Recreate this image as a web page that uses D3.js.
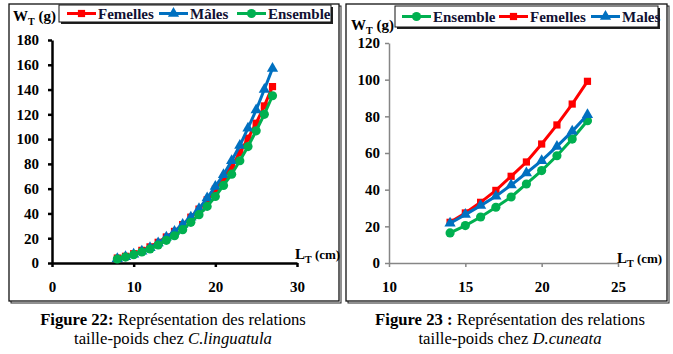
<!DOCTYPE html>
<html>
<head>
<meta charset="utf-8">
<script src="https://cdn.jsdelivr.net/npm/d3@7"></script>
<style>
  body { margin: 0; background: #fff; }
  text { font-family: "Liberation Serif", "Times New Roman", serif; }
</style>
</head>
<body>
<div id="plot"></div>
<script>
// Figure 22 - C.linguatula
var lenA = [8, 9, 10, 11, 12, 13, 14, 15, 16, 17, 18, 19, 20, 21, 22, 23, 24, 25, 26, 27]
var femellesA = [4, 5.4, 7.5, 10.2, 13, 16.7, 21, 25.5, 31, 37, 43.5, 51, 59.6, 68.5, 78, 89, 100.7, 112.8, 126.8, 142.4]
var malesA = [3.5, 5.1, 7, 9.4, 12.4, 16.1, 20.7, 25.5, 31, 37, 43.8, 52.4, 61.8, 71.2, 82.5, 94.8, 108.8, 123.5, 140, 157]
var ensembleA = [3.2, 4.8, 6.7, 8.9, 11.3, 14.5, 18.3, 22, 26.9, 32.8, 39, 45.7, 53.7, 62.6, 71.7, 82.5, 94, 106.7, 120, 135]
var xTicksA = [0, 10, 20, 30]
var yTicksA = [0, 20, 40, 60, 80, 100, 120, 140, 160, 180]

// Figure 23 - D.cuneata
var lenB = [14, 15, 16, 17, 18, 19, 20, 21, 22, 23]
var ensembleB = [16.4, 20.4, 25.1, 30.4, 36, 43.1, 50.4, 58.5, 67.6, 77.6]
var femellesB = [22.2, 27.3, 33.1, 39.6, 47.3, 55.1, 64.9, 75.3, 86.7, 99.1]
var malesB = [21.7, 26.4, 31.3, 36.4, 42.5, 49.1, 55.8, 63.6, 71.8, 80.9]
var xTicksB = [10, 15, 20, 25]
var yTicksB = [0, 20, 40, 60, 80, 100, 120]

var RED = "#ff0000", BLUE = "#0070c0", GREEN = "#00b050"

var svg = d3.select("#plot")
  .append("svg")
  .attr("width", 673)
  .attr("height", 354)

svg.append("rect").attr("width", 673).attr("height", 354).attr("fill", "#fff")

// panel frames (with a small shadow on the right side)
var frame = function (x, y, w, h) {
  svg.append("rect")
    .attr("x", x + 2).attr("y", y + 2).attr("width", w).attr("height", h)
    .attr("fill", "none").attr("stroke", "#222").attr("stroke-width", 1)
  svg.append("rect")
    .attr("x", x).attr("y", y).attr("width", w).attr("height", h)
    .attr("fill", "#fff").attr("stroke", "#111").attr("stroke-width", 1.3)
}
frame(9, 4, 330, 297)
frame(346, 4, 321, 297)

var marker = function (type) {
  if (type == "square") return d3.symbol().type(d3.symbolSquare).size(52)()
  if (type == "triangle") return d3.symbol().type(d3.symbolTriangle).size(55)()
  return d3.symbol().type(d3.symbolCircle).size(66)()
}

var drawChart = function (cfg) {
  var x = d3.scaleLinear().domain(cfg.xDomain).range(cfg.xRange)
  var y = d3.scaleLinear().domain(cfg.yDomain).range(cfg.yRange)
  var g = svg.append("g")

  var ax = g.append("g")
    .attr("transform", "translate(0," + cfg.yRange[0] + ")")
    .call(d3.axisBottom(x).tickValues(cfg.xTicks).tickSize(4).tickSizeOuter(0).tickPadding(14).tickFormat(d3.format("d")))
  var ay = g.append("g")
    .attr("transform", "translate(" + cfg.xRange[0] + ",0)")
    .call(d3.axisLeft(y).tickValues(cfg.yTicks).tickSize(4).tickSizeOuter(0).tickPadding(cfg.yPad).tickFormat(d3.format("d")))

  ;[ax, ay].forEach(a => {
    a.select(".domain").attr("stroke", cfg.axisColor).attr("stroke-width", cfg.axisWidth)
    a.selectAll(".tick line").attr("stroke", cfg.axisColor).attr("stroke-width", cfg.axisWidth)
    a.selectAll(".tick text")
      .attr("fill", "#000")
      .style("font-family", "'Liberation Serif', serif")
      .style("font-size", "15px")
      .style("font-weight", "bold")
  })

  var line = d3.line()
    .x((d, i) => x(cfg.lens[i]))
    .y(d => y(d))

  cfg.series.forEach(s => {
    g.append("path")
      .datum(s.values)
      .attr("d", line)
      .attr("fill", "none")
      .attr("stroke", s.color)
      .attr("stroke-width", 3)
    g.selectAll(null)
      .data(s.values)
      .enter()
      .append("path")
      .attr("d", marker(s.marker))
      .attr("transform", (d, i) => "translate(" + x(cfg.lens[i]) + "," + y(d) + ")")
      .attr("fill", s.color)
  })

  // axis titles with subscript T
  var wt = g.append("text")
    .attr("x", cfg.wtPos[0]).attr("y", cfg.wtPos[1])
    .style("font-size", "15px").style("font-weight", "bold")
  wt.append("tspan").text("W")
  wt.append("tspan").text("T").style("font-size", "10px").attr("dy", 4)
  wt.append("tspan").text(" (g)").attr("dy", -4)

  var lt = g.append("text")
    .attr("x", cfg.ltPos[0]).attr("y", cfg.ltPos[1])
    .style("font-size", "15px").style("font-weight", "bold")
  lt.append("tspan").text("L")
  lt.append("tspan").text("T").style("font-size", "10px").attr("dy", 4)
  lt.append("tspan").text(" (cm)").style("font-size", "13px").attr("dy", -4)

  // legend box
  var lb = cfg.legendBox
  g.append("rect")
    .attr("x", lb[0] + 2).attr("y", lb[1] + 2).attr("width", lb[2]).attr("height", lb[3])
    .attr("fill", "#222")
  g.append("rect")
    .attr("x", lb[0]).attr("y", lb[1]).attr("width", lb[2]).attr("height", lb[3])
    .attr("fill", "#fff").attr("stroke", "#111").attr("stroke-width", 1)

  var cy = lb[1] + lb[3] / 2
  cfg.series.forEach(s => {
    var lx = cfg.legendX[s.name]
    g.append("line")
      .attr("x1", lx).attr("x2", lx + 29).attr("y1", cy).attr("y2", cy)
      .attr("stroke", s.color).attr("stroke-width", 3)
    g.append("path")
      .attr("d", marker(s.marker))
      .attr("transform", "translate(" + (lx + 14.5) + "," + cy + ")")
      .attr("fill", s.color)
    g.append("text")
      .attr("x", lx + 31).attr("y", cy + 5)
      .style("font-size", "15px").style("font-weight", "bold")
      .attr("fill", "#111133")
      .text(s.name)
  })
}

drawChart({
  lens: lenA,
  xDomain: [0, 30], xRange: [52, 297],
  yDomain: [0, 180], yRange: [263, 40],
  xTicks: xTicksA, yTicks: yTicksA, yPad: 9,
  axisColor: "#000", axisWidth: 2.5,
  series: [
    { name: "Femelles", values: femellesA, color: RED, marker: "square" },
    { name: "Mâles", values: malesA, color: BLUE, marker: "triangle" },
    { name: "Ensemble", values: ensembleA, color: GREEN, marker: "circle" }
  ],
  legendBox: [59, 5, 272, 17],
  legendX: { "Femelles": 67, "Mâles": 159, "Ensemble": 237 },
  wtPos: [13, 21], ltPos: [295, 259]
})

drawChart({
  lens: lenB,
  xDomain: [10, 25], xRange: [389, 618],
  yDomain: [0, 120], yRange: [263, 43],
  xTicks: xTicksB, yTicks: yTicksB, yPad: 5,
  axisColor: "#868686", axisWidth: 1.5,
  series: [
    { name: "Ensemble", values: ensembleB, color: GREEN, marker: "circle" },
    { name: "Femelles", values: femellesB, color: RED, marker: "square" },
    { name: "Males", values: malesB, color: BLUE, marker: "triangle" }
  ],
  legendBox: [395, 6, 263, 21],
  legendX: { "Ensemble": 402, "Femelles": 499, "Males": 591 },
  wtPos: [351, 30], ltPos: [617, 263]
})

// captions
var caption = function (cx, num, species) {
  var t1 = svg.append("text").attr("x", cx).attr("y", 325)
    .attr("text-anchor", "middle").style("font-size", "16.7px")
  t1.append("tspan").text("Figure " + num).style("font-weight", "bold")
  t1.append("tspan").text(" Représentation des relations")
  var t2 = svg.append("text").attr("x", cx).attr("y", 344)
    .attr("text-anchor", "middle").style("font-size", "16.7px")
  t2.append("tspan").text("taille-poids chez ")
  t2.append("tspan").text(species).style("font-style", "italic")
}
caption(173, "22:", "C.linguatula")
caption(510, "23 :", "D.cuneata")
</script>
</body>
</html>
